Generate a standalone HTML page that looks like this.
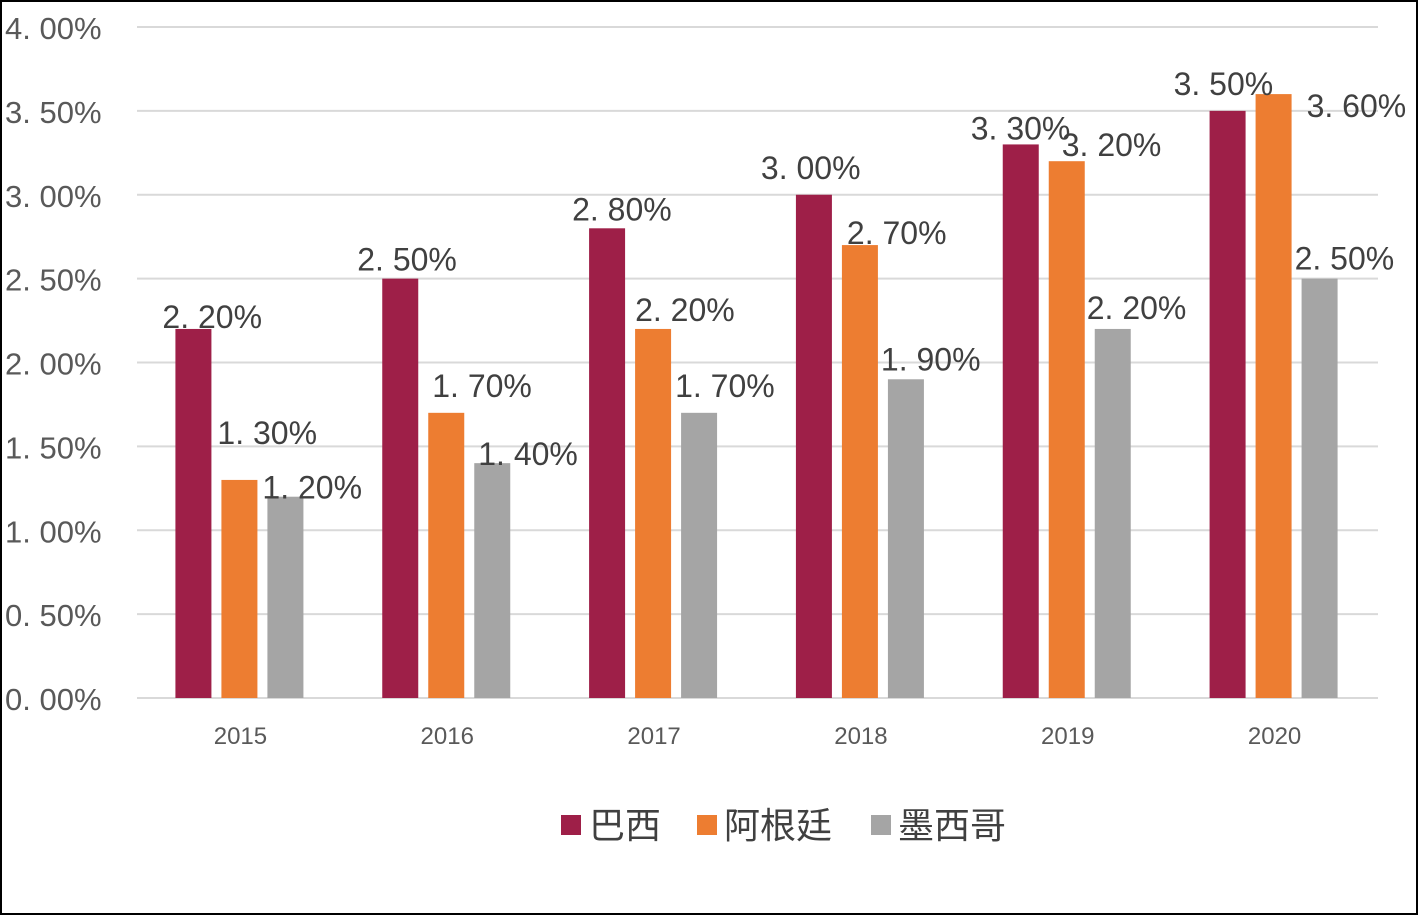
<!DOCTYPE html>
<html><head><meta charset="utf-8"><style>
body{margin:0;background:#fff}
svg{display:block}
</style></head><body>
<svg id="c" width="1419" height="916" xmlns="http://www.w3.org/2000/svg">
<rect x="1" y="1" width="1416" height="913" fill="#fff" stroke="#000" stroke-width="2"/>
<g id="grid"></g><g id="bars"></g><g id="labels"></g>
<g font-family="'Liberation Sans','Noto Sans CJK SC',sans-serif" font-size="36" fill="#404040">
<rect x="561" y="815" width="20" height="20" fill="#9E1F48"/>
<text x="589" y="838">巴西</text>
<rect x="697" y="815" width="20" height="20" fill="#ED7D31"/>
<text x="724" y="838">阿根廷</text>
<rect x="871" y="815" width="20" height="20" fill="#A5A5A5"/>
<text x="898" y="838">墨西哥</text>
</g>
</svg>
<script>
const categories=['2015','2016','2017','2018','2019','2020'];
const brazil=[2.2,2.5,2.8,3.0,3.3,3.5];
const argentina=[1.3,1.7,2.2,2.7,3.2,3.6];
const mexico=[1.2,1.4,1.7,1.9,2.2,2.5];
const yTicks=[0,0.5,1,1.5,2,2.5,3,3.5,4];
const yTickLabels=['0. 00%','0. 50%','1. 00%','1. 50%','2. 00%','2. 50%','3. 00%','3. 50%','4. 00%'];
// label placement offsets (styling, not data)
const offB=[[-13,0],[-25,-7],[-17,-7],[-35,-15],[-32,-4],[-36,-15]];
const offA=[[-4,-35],[4,-15],[0,-7],[5,0],[13,-4],[51,24]];
const offM=[[-5,3],[4,3],[-6,-15],[-7,-8],[-8,-9],[-7,-8]];
const NS='http://www.w3.org/2000/svg';
const X0=137,X1=1378,Y0=698,Y1=27;
const y=v=>Y0-(v/4)*(Y0-Y1);
const gw=(X1-X0)/categories.length;
const gx=i=>X0+gw*(i+0.5);
function mk(t,a,p){const e=document.createElementNS(NS,t);for(const k in a)e.setAttribute(k,a[k]);p.appendChild(e);return e;}
const F="'Liberation Sans','Noto Sans CJK SC',sans-serif";
const grid=document.getElementById('grid'),bars=document.getElementById('bars'),labels=document.getElementById('labels');
yTicks.forEach((v,i)=>{
 const l=mk('line',{x1:X0,x2:X1,y1:y(v),y2:y(v),stroke:'#D9D9D9','stroke-width':2},grid);
 
 
 const t=mk('text',{x:5,y:y(v)+12,'font-family':F,'font-size':31,fill:'#595959','xml:space':'preserve'},grid);
 t.textContent=yTickLabels[i];
 
 
});
const series=[[brazil,'#9E1F48','brazil',offB],[argentina,'#ED7D31','argentina',offA],[mexico,'#A5A5A5','mexico',offM]];
categories.forEach((c,i)=>{
 const t=mk('text',{x:gx(i),y:744,'text-anchor':'middle','font-family':F,'font-size':24,fill:'#595959'},labels);
 t.textContent=c;
 
 
 series.forEach(([d,col,nm,off],s)=>{
  const bx=gx(i)-65+s*46;
  const r=mk('rect',{x:bx,y:y(d[i]),width:36,height:Y0-y(d[i]),fill:col},bars);
  
  
  const lt=mk('text',{x:bx+off[i][0],y:y(d[i])+off[i][1]-1,'font-family':F,'font-size':32,fill:'#404040','xml:space':'preserve'},labels);
  lt.textContent=d[i].toFixed(2).replace('.','. ')+'%';
  
  
 });
});
</script>
</body></html>
